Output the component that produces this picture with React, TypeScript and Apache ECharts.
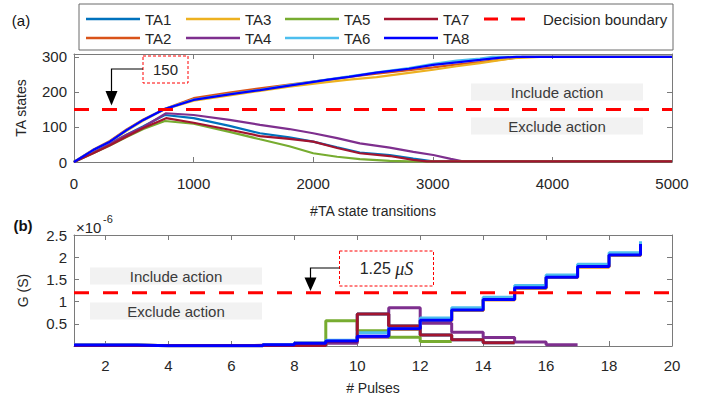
import React, { useEffect, useRef } from 'react';
import * as echarts from 'echarts';

const taNames = ['TA1', 'TA2', 'TA3', 'TA4', 'TA5', 'TA6', 'TA7', 'TA8'];
const taColors = ['#0072BD', '#D95319', '#EDB120', '#7E2F8E', '#77AC30', '#4DBEEE', '#A2142F', '#0000FF'];
const boundaryName = 'Decision boundary';

const stateTicks = [0, 100, 200, 300];
const transitionTicks = [0, 1000, 2000, 3000, 4000, 5000];
const pulseTicks = [2, 4, 6, 8, 10, 12, 14, 16, 18, 20];
const conductanceTicks = [0.5, 1, 1.5, 2, 2.5];
const decisionStates = 150;
const decisionConductance = 1.2;

// Panel (a): TA state vs #TA state transitions
const ta1States = [[0, 0], [160, 28], [300, 52], [440, 78], [580, 102], [760, 134], [1000, 125], [1300, 103], [1555, 82], [1800, 70], [2000, 58], [2200, 42], [2390, 27], [2640, 20], [2837, 10], [3000, 2], [5000, 2]];
const ta2States = [[0, 0], [160, 35], [300, 60], [440, 93], [580, 121], [750, 150], [1000, 182], [1300, 198], [1555, 210], [1800, 221], [2113, 234], [2300, 243], [2530, 252], [2800, 262], [3004, 270], [3200, 278], [3394, 285], [3600, 293], [3750, 300], [5000, 300]];
const ta3States = [[0, 0], [160, 33], [300, 57], [440, 89], [580, 118], [750, 149], [1000, 175], [1300, 190], [1555, 203], [1800, 215], [2113, 228], [2300, 235], [2530, 242], [2800, 254], [3004, 263], [3200, 273], [3394, 282], [3672, 296], [3900, 300], [5000, 300]];
const ta4States = [[0, 0], [160, 28], [300, 52], [440, 78], [580, 100], [770, 139], [1000, 134], [1300, 120], [1555, 106], [1800, 94], [2000, 82], [2200, 68], [2390, 53], [2640, 41], [2837, 29], [3004, 20], [3150, 9], [3250, 2], [5000, 2]];
const ta5States = [[0, 0], [160, 25], [300, 47], [440, 71], [580, 94], [760, 117], [1000, 109], [1300, 86], [1555, 65], [1800, 45], [2000, 25], [2200, 15], [2390, 8], [2640, 3], [2800, 2], [5000, 2]];
const ta6States = [[0, 0], [160, 34], [300, 58], [440, 91], [580, 120], [750, 150], [1000, 178], [1300, 194], [1555, 206], [1800, 219], [2113, 235], [2300, 244], [2530, 256], [2800, 268], [3004, 280], [3200, 289], [3394, 295], [3500, 300], [5000, 300]];
const ta7States = [[0, 0], [160, 25], [300, 48], [440, 73], [580, 97], [770, 125], [1000, 112], [1300, 92], [1555, 74], [1800, 66], [2000, 58], [2200, 40], [2390, 25], [2640, 17], [2837, 6], [2950, 2], [5000, 2]];
const ta8States = [[0, 0], [160, 34], [300, 58], [440, 91], [580, 120], [750, 150], [1000, 177], [1300, 193], [1555, 205], [1800, 218], [2113, 234], [2300, 243], [2530, 255], [2800, 266], [3004, 277], [3200, 284], [3394, 291], [3550, 297], [3700, 300], [5000, 300]];
const statesData = [ta1States, ta2States, ta3States, ta4States, ta5States, ta6States, ta7States, ta8States];

// Panel (b): conductance (x1e-6 S) vs # pulses
const pulses = [1, 2, 3, 4, 5, 6, 7, 8, 9, 10, 11, 12, 13, 14, 15, 16, 17, 18, 19];
const ta1G = [0.01, 0.01, 0.01, 0.01, 0.01, 0.01, 0.01, 0.01, 0.1, 0.72, 0.45, 0.25, 0.14, 0.075, 0.075];
const ta2G = [0.02, 0.02, 0.005, 0.005, 0.005, 0.005, 0.03, 0.06, 0.1, 0.21, 0.38, 0.57, 0.8, 1.04, 1.3, 1.54, 1.78, 2.04, 2.28];
const ta3G = [0.02, 0.02, 0.005, 0.005, 0.005, 0.005, 0.03, 0.06, 0.1, 0.21, 0.38, 0.57, 0.8, 1.04, 1.3, 1.54, 1.78, 2.04, 2.28];
const ta4G = [0.01, 0.01, 0.01, 0.01, 0.01, 0.015, 0.01, 0.01, 0.06, 0.2, 0.86, 0.51, 0.31, 0.19, 0.09, 0.03, 0.03];
const ta5G = [0.01, 0.01, 0.01, 0.01, 0.01, 0.01, 0.01, 0.01, 0.57, 0.345, 0.195, 0.1, 0.1];
const ta6G = [0.02, 0.02, 0.005, 0.005, 0.005, 0.005, 0.03, 0.07, 0.13, 0.3, 0.44, 0.63, 0.86, 1.1, 1.36, 1.6, 1.84, 2.1, 2.36];
const ta7G = [0.01, 0.01, 0.01, 0.01, 0.01, 0.01, 0.01, 0.01, 0.1, 0.72, 0.45, 0.25, 0.14, 0.075, 0.075];
const ta8G = [0.02, 0.02, 0.005, 0.005, 0.005, 0.005, 0.03, 0.06, 0.11, 0.22, 0.39, 0.58, 0.81, 1.05, 1.31, 1.55, 1.79, 2.05, 2.3];
const conductanceData = [ta1G, ta2G, ta3G, ta4G, ta5G, ta6G, ta7G, ta8G];

const FONT = "'Liberation Sans', Arial, sans-serif";
const SERIF = "'Liberation Serif', 'DejaVu Serif', serif";
const AXIS_COLOR = '#7a7a7a';
const TEXT_COLOR = '#262626';
const plain = (v: number) => String(v);

function boxAxis(gridIndex: number, pos: string, min: number, max: number, ticks: number[], showLabel: boolean, extra: any = {}) {
  return {
    type: 'value',
    gridIndex,
    position: pos,
    min,
    max,
    axisLine: { show: true, onZero: false, lineStyle: { color: AXIS_COLOR, width: 1 } },
    axisTick: { show: true, inside: true, length: 5, customValues: ticks, lineStyle: { color: AXIS_COLOR } },
    axisLabel: { show: showLabel, customValues: ticks, formatter: plain, color: TEXT_COLOR, fontSize: 15, fontFamily: FONT },
    splitLine: { show: false },
    ...extra,
  };
}

export default function App() {
  const ref = useRef<HTMLDivElement>(null);

  useEffect(() => {
    if (!ref.current) return;
    const chart = echarts.init(ref.current, undefined, { renderer: 'svg' });

    const series: any[] = [];
    taNames.forEach((name, i) => {
      series.push({
        name,
        type: 'line',
        xAxisIndex: 0,
        yAxisIndex: 0,
        data: statesData[i],
        showSymbol: false,
        symbol: 'none',
        lineStyle: { color: taColors[i], width: 2.2 },
        itemStyle: { color: taColors[i] },
        z: 2 + i * 0.01,
      });
    });
    series.push({
      name: boundaryName,
      type: 'line',
      xAxisIndex: 0,
      yAxisIndex: 0,
      data: [[transitionTicks[0], decisionStates], [transitionTicks[transitionTicks.length - 1], decisionStates]],
      symbol: 'none',
      lineStyle: { color: '#FF0000', width: 3, type: [15, 13] },
      z: 3,
    });
    taNames.forEach((name, i) => {
      series.push({
        name: name + ' G',
        type: 'line',
        step: 'end',
        xAxisIndex: 2,
        yAxisIndex: 2,
        data: conductanceData[i].map((v, k) => [pulses[k], v]),
        symbol: 'none',
        lineStyle: { color: taColors[i], width: 3 },
        itemStyle: { color: taColors[i] },
        z: 2 + i * 0.01,
      });
    });
    series.push({
      name: boundaryName + ' G',
      type: 'line',
      xAxisIndex: 2,
      yAxisIndex: 2,
      data: [[pulses[0], decisionConductance], [pulseTicks[pulseTicks.length - 1], decisionConductance]],
      symbol: 'none',
      lineStyle: { color: '#FF0000', width: 3, type: [15, 14] },
      z: 3,
    });

    // Legend drawn as graphics
    const legendEls: any[] = [];
    const colX = [86, 186, 285, 384, 484];
    const rowY = [19, 38];
    taNames.forEach((name, i) => {
      const c = Math.floor(i / 2);
      const r = i % 2;
      legendEls.push({
        type: 'line',
        shape: { x1: colX[c], y1: rowY[r], x2: colX[c] + 54, y2: rowY[r] },
        style: { stroke: taColors[i], lineWidth: 2.5 },
      });
      legendEls.push({
        type: 'text',
        x: colX[c] + 59,
        y: rowY[r],
        style: { text: name, fill: TEXT_COLOR, fontSize: 15, fontFamily: FONT, textVerticalAlign: 'middle' },
      });
    });
    legendEls.push({ type: 'line', shape: { x1: 484, y1: 19, x2: 498, y2: 19 }, style: { stroke: '#FF0000', lineWidth: 3 } });
    legendEls.push({ type: 'line', shape: { x1: 511, y1: 19, x2: 525, y2: 19 }, style: { stroke: '#FF0000', lineWidth: 3 } });
    legendEls.push({
      type: 'text', x: 543, y: 19,
      style: { text: boundaryName, fill: TEXT_COLOR, fontSize: 15, fontFamily: FONT, textVerticalAlign: 'middle' },
    });

    const actionBox = (cx: number, cy: number, w: number, h: number, text: string) => [
      { type: 'rect', shape: { x: cx - w / 2, y: cy - h / 2, width: w, height: h }, style: { fill: '#F2F2F2' } },
      {
        type: 'text', x: cx, y: cy,
        style: { text, fill: '#3a3a3a', fontSize: 15, fontFamily: FONT, textAlign: 'center', textVerticalAlign: 'middle' },
      },
    ];

    const graphic: any[] = [
      { type: 'rect', shape: { x: 79, y: 4, width: 594, height: 46 }, style: { fill: '#fff', stroke: '#6a6a6a', lineWidth: 1 }, z: 10 },
      ...legendEls.map((e) => ({ ...e, z: 11 })),
      { type: 'text', x: 21, y: 20, style: { text: '(a)', fill: '#111', fontSize: 15, fontFamily: FONT, textAlign: 'center', textVerticalAlign: 'middle' }, z: 11 },
      { type: 'text', x: 23, y: 225, style: { text: '(b)', fill: '#111', fontSize: 15, fontWeight: 'bold', fontFamily: FONT, textAlign: 'center', textVerticalAlign: 'middle' }, z: 11 },
      ...actionBox(557, 92, 172, 17, 'Include action').map((e) => ({ ...e, z: 9 })),
      ...actionBox(557, 126, 172, 17, 'Exclude action').map((e) => ({ ...e, z: 9 })),
      ...actionBox(176, 276, 172, 17, 'Include action').map((e) => ({ ...e, z: 9 })),
      ...actionBox(176, 311, 172, 17, 'Exclude action').map((e) => ({ ...e, z: 9 })),
      // 150 callout
      { type: 'rect', shape: { x: 143, y: 56, width: 45, height: 27 }, style: { fill: '#fff', stroke: '#FF0000', lineWidth: 1, lineDash: [3, 2] }, z: 9 },
      { type: 'text', x: 165.5, y: 69.5, style: { text: String(decisionStates), fill: TEXT_COLOR, fontSize: 15, fontFamily: FONT, textAlign: 'center', textVerticalAlign: 'middle' }, z: 10 },
      { type: 'polyline', shape: { points: [[143, 69], [111.5, 69], [111.5, 94]] }, style: { stroke: '#000', lineWidth: 1.2, fill: 'none' }, z: 9 },
      { type: 'polygon', shape: { points: [[105.5, 91], [117.5, 91], [111.5, 105.5]] }, style: { fill: '#000' }, z: 9 },
      // 1.25 uS callout
      { type: 'rect', shape: { x: 339.5, y: 251, width: 94, height: 35 }, style: { fill: '#fff', stroke: '#FF0000', lineWidth: 1, lineDash: [3, 2] }, z: 9 },
      {
        type: 'text', x: 386.5, y: 268.5,
        style: {
          text: '{n|1.25 }{m|μS}',
          textAlign: 'center', textVerticalAlign: 'middle',
          rich: {
            n: { fontSize: 16, fontFamily: FONT, fill: TEXT_COLOR },
            m: { fontSize: 18, fontFamily: SERIF, fontStyle: 'italic', fill: TEXT_COLOR },
          },
        },
        z: 10,
      },
      { type: 'polyline', shape: { points: [[339.5, 268], [310.5, 268], [310.5, 280]] }, style: { stroke: '#000', lineWidth: 1.2, fill: 'none' }, z: 9 },
      { type: 'polygon', shape: { points: [[304.5, 277.5], [316.5, 277.5], [310.5, 291]] }, style: { fill: '#000' }, z: 9 },
      // x10^-6
      { type: 'text', x: 76, y: 227, style: { text: '×10', fill: TEXT_COLOR, fontSize: 15, fontFamily: FONT, textVerticalAlign: 'middle' }, z: 10 },
      { type: 'text', x: 103, y: 219, style: { text: '-6', fill: TEXT_COLOR, fontSize: 11, fontFamily: FONT, textVerticalAlign: 'middle' }, z: 10 },
    ];

    chart.setOption({
      animation: false,
      backgroundColor: '#ffffff',
      grid: [
        { left: 74, top: 54, width: 598, height: 108 },
        { left: 74, top: 235, width: 598, height: 111 },
      ],
      xAxis: [
        boxAxis(0, 'bottom', 0, 5000, transitionTicks, true, {
          name: '#TA state transitions', nameLocation: 'middle', nameGap: 42,
          nameTextStyle: { color: TEXT_COLOR, fontSize: 14, fontFamily: FONT },
          axisLabel: { show: true, customValues: transitionTicks, formatter: plain, color: TEXT_COLOR, fontSize: 15, fontFamily: FONT, margin: 14 },
        }),
        boxAxis(0, 'top', 0, 5000, transitionTicks, false),
        boxAxis(1, 'bottom', 1, 20, pulseTicks, true, {
          name: '# Pulses', nameLocation: 'middle', nameGap: 35,
          nameTextStyle: { color: TEXT_COLOR, fontSize: 14, fontFamily: FONT },
          axisLabel: { show: true, customValues: pulseTicks, formatter: plain, color: TEXT_COLOR, fontSize: 15, fontFamily: FONT, margin: 12 },
        }),
        boxAxis(1, 'top', 1, 20, pulseTicks, false),
      ],
      yAxis: [
        boxAxis(0, 'left', 0, 308, stateTicks, true, {
          name: 'TA states', nameLocation: 'middle', nameGap: 46,
          nameTextStyle: { color: TEXT_COLOR, fontSize: 14, fontFamily: FONT },
          axisLabel: { show: true, customValues: stateTicks, formatter: plain, color: TEXT_COLOR, fontSize: 15, fontFamily: FONT, margin: 7 },
        }),
        boxAxis(0, 'right', 0, 308, stateTicks, false),
        boxAxis(1, 'left', 0, 2.5, conductanceTicks, true, {
          name: 'G (S)', nameLocation: 'middle', nameGap: 44,
          nameTextStyle: { color: TEXT_COLOR, fontSize: 14, fontFamily: FONT },
          axisLabel: { show: true, customValues: conductanceTicks, formatter: plain, color: TEXT_COLOR, fontSize: 15, fontFamily: FONT, margin: 7 },
        }),
        boxAxis(1, 'right', 0, 2.5, conductanceTicks.slice(0, 4), false),
      ],
      series,
      graphic,
    });

    return () => chart.dispose();
  }, []);

  return <div ref={ref} style={{ width: 715, height: 403, position: 'absolute', left: 0, top: 0 }} />;
}
